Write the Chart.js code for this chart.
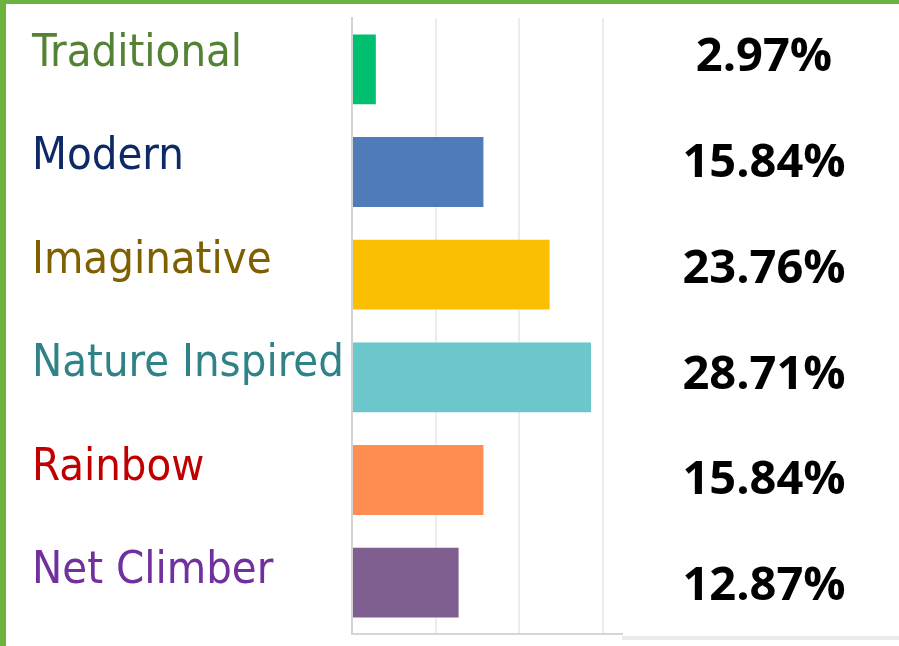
<!DOCTYPE html>
<html>
<head>
<meta charset="utf-8">
<script src="https://cdn.jsdelivr.net/npm/chart.js@4/dist/chart.umd.min.js"></script>
<style>
  html, body { margin: 0; padding: 0; background: #ffffff; }
  #wrap { position: relative; width: 899px; height: 646px; overflow: hidden; }
  #c { position: absolute; left: 0; top: 0; }
  .gtop { position: absolute; left: 0; top: 0; width: 899px; height: 4px; background: #6db33f; }
  .gleft { position: absolute; left: 0; top: 0; width: 6px; height: 646px; background: #6db33f; }
</style>
</head>
<body>
<div id="wrap">
  <canvas id="c" width="899" height="646"></canvas>
  <div class="gtop"></div>
  <div class="gleft"></div>
</div>
<script>
const categories = ['Traditional', 'Modern', 'Imaginative', 'Nature Inspired', 'Rainbow', 'Net Climber'];
const values = [2.97, 15.84, 23.76, 28.71, 15.84, 12.87];
const barColors = ['#00bf6f', '#4f7cb8', '#f9bf00', '#6bc7cc', '#ff8c50', '#7e5f8f'];
const labelColors = ['#548235', '#0d2a66', '#7f6000', '#2e8288', '#c00000', '#7030a0'];
const xTicks = [0, 10, 20, 30];

const sidePlugin = {
  id: 'sideText',
  afterDraw(chart) {
    const ctx = chart.ctx;
    const y = chart.scales.y;
    ctx.save();
    // category labels on the left
    ctx.font = '45px "DejaVu Sans Condensed", "DejaVu Sans", sans-serif';
    ctx.textAlign = 'left';
    ctx.textBaseline = 'alphabetic';
    categories.forEach((c, i) => {
      ctx.fillStyle = labelColors[i];
      ctx.fillText(c, 32, y.getPixelForValue(i) - 3.5 + i * 0.8);
    });
    // percentages on the right
    ctx.font = 'bold 47px "Open Sans", sans-serif';
    ctx.textAlign = 'center';
    ctx.fillStyle = '#000000';
    values.forEach((v, i) => {
      ctx.fillText(v.toFixed(2) + '%', 764, y.getPixelForValue(i) + 2 + i * 3.1);
    });
    // light line at bottom right
    const ca = chart.chartArea;
    ctx.fillStyle = '#ebebeb';
    ctx.fillRect(ca.right, ca.bottom + 2, chart.width - ca.right, 4);
    ctx.restore();
  }
};

new Chart(document.getElementById('c'), {
  type: 'bar',
  data: {
    labels: categories,
    datasets: [{
      data: values,
      backgroundColor: barColors,
      borderColor: 'rgba(255,255,255,0.45)',
      borderWidth: 1,
      barPercentage: 0.7,
      categoryPercentage: 1.0
    }]
  },
  options: {
    indexAxis: 'y',
    responsive: false,
    animation: false,
    devicePixelRatio: 1,
    layout: { padding: { left: 352, right: 277, top: 18, bottom: 12 } },
    plugins: { legend: { display: false }, tooltip: { enabled: false } },
    scales: {
      x: {
        min: 0,
        max: 32.3,
        afterBuildTicks(scale) { scale.ticks = xTicks.map(v => ({ value: v })); },
        ticks: { display: false },
        grid: { color: '#ececec', lineWidth: 2, drawTicks: false },
        border: { display: true, color: '#d6d6d6', width: 2 }
      },
      y: {
        ticks: { display: false },
        grid: { display: false, drawTicks: false },
        border: { display: true, color: '#d3d3d3', width: 2 }
      }
    }
  },
  plugins: [sidePlugin]
});
</script>
</body>
</html>
